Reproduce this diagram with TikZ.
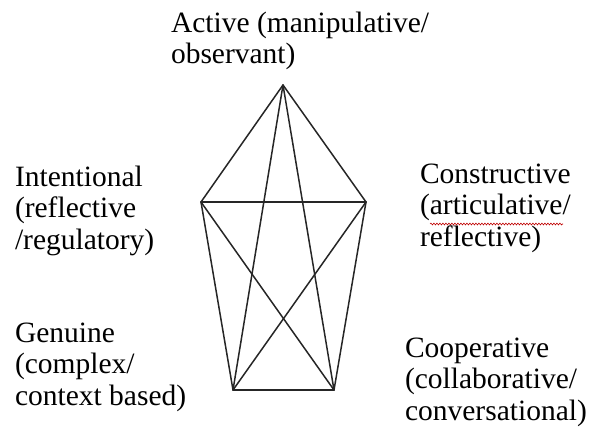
\documentclass[tikz,border=0pt]{standalone}
\usepackage{fontspec}
\setmainfont{Liberation Serif}
\usetikzlibrary{decorations.pathmorphing}
\tikzset{
  lbl/.style={anchor=base west, inner sep=0pt, outer sep=0pt,
    font=\fontsize{29.5}{31.5}\selectfont},
  edge/.style={line width=1.5pt, black!85, line cap=round, line join=round},
  spell/.style={red!75!black, line width=0.6pt,
    decorate, decoration={snake, amplitude=0.9pt, segment length=3pt}}
}
\newcommand{\lines}[1]{\begin{tabular}[t]{@{}l@{}}#1\end{tabular}}
\begin{document}
\begin{tikzpicture}[x=1pt,y=-1pt]
\useasboundingbox (0,0) rectangle (591,434);
% vertices
\coordinate (A) at (283,85);
\coordinate (I) at (201,202);
\coordinate (C) at (366,202);
\coordinate (G) at (233,390);
\coordinate (P) at (334,390);
% edges (complete graph)
\draw[edge] (A) -- (I);
\draw[edge] (A) -- (C);
\draw[edge] (A) -- (G);
\draw[edge] (A) -- (P);
\draw[edge] (I) -- (C);
\draw[edge] (I) -- (G);
\draw[edge] (I) -- (P);
\draw[edge] (C) -- (G);
\draw[edge] (C) -- (P);
\draw[edge] (G) -- (P);
% labels
\node[lbl] (tA) at (171,32) {\lines{Active (manipulative/\\observant)}};
\node[lbl] (tI) at (15,186) {\lines{Intentional\\(reflective\\/regulatory)}};
\node[lbl] (tC) at (420,183) {\lines{Constructive\\(articulative/\\reflective)}};
\node[lbl] (tG) at (15,342) {\lines{Genuine\\(complex/\\context based)}};
\node[lbl] (tP) at (405,357) {\lines{Cooperative\\(collaborative/\\conversational)}};
% spell-check underline
\coordinate (s1) at (430,224);
\coordinate (s2) at (563,224);
\draw[spell] (s1) -- (s2);
\end{tikzpicture}
\end{document}
